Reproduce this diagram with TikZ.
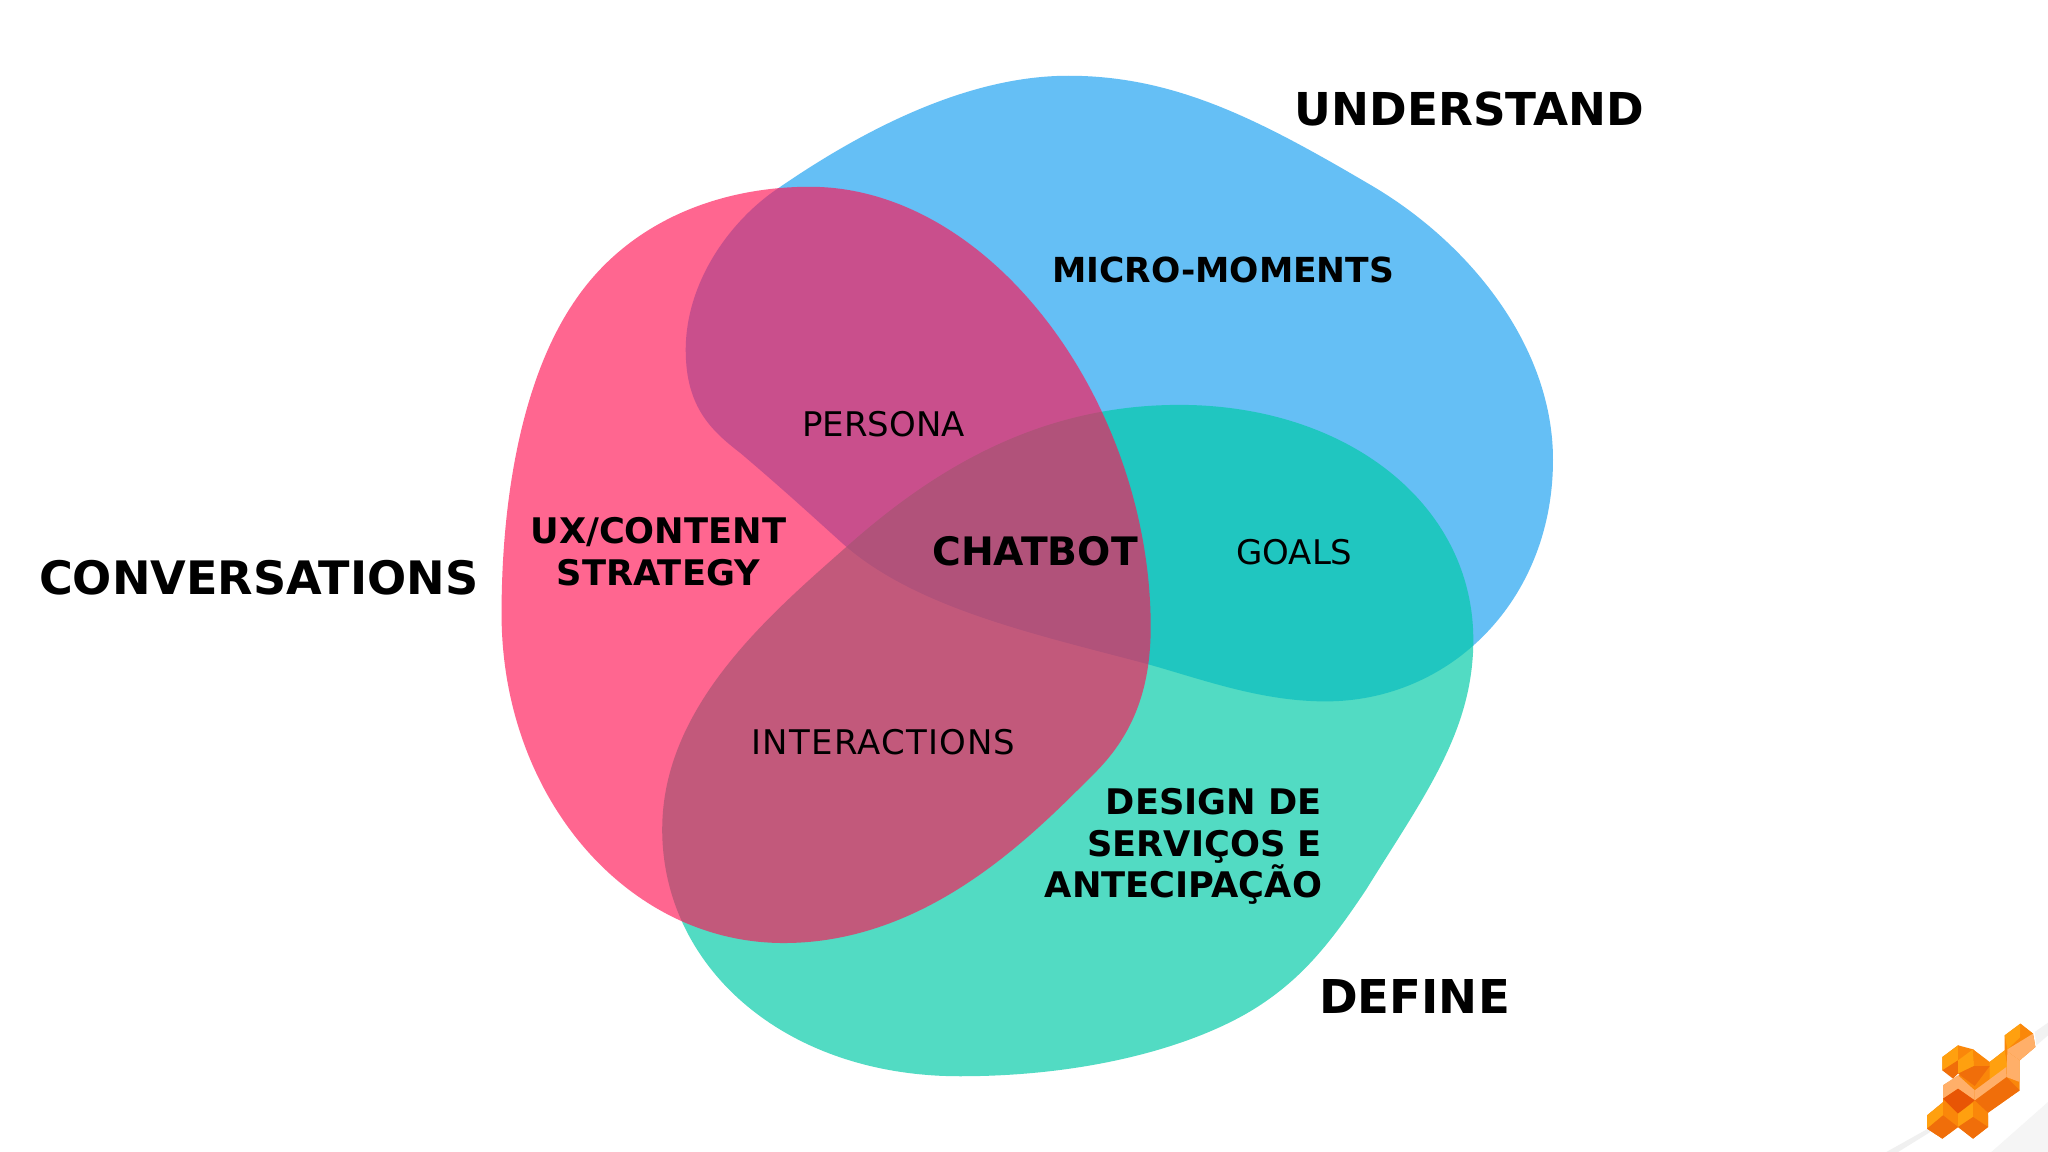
\documentclass[tikz,border=0pt]{standalone}
\usepackage{fontspec}
\setmainfont{DejaVu Sans}
\definecolor{blobblue}{RGB}{101,191,245}
\definecolor{blobgreen}{RGB}{0,202,167}
\definecolor{blobpink}{RGB}{255,20,85}
\definecolor{lgA}{RGB}{255,160,15}
\definecolor{lgB}{RGB}{240,110,10}
\definecolor{lgC}{RGB}{250,135,10}
\definecolor{lgD}{RGB}{255,175,105}
\definecolor{lgE}{RGB}{232,85,5}
\tikzset{
  big/.style={font=\fontsize{35}{35}\selectfont\bfseries,text=black,inner sep=0pt},
  mid/.style={font=\fontsize{27}{32}\selectfont\bfseries,text=black,inner sep=0pt},
  reg/.style={font=\fontsize{26}{30}\selectfont,text=black,inner sep=0pt}
}
\begin{document}
\begin{tikzpicture}[x=1pt,y=-1pt]
\useasboundingbox (0,0) rectangle (1568,882);
\fill[white] (0,0) rectangle (1568,882);
\begin{scope}[shift={(1414.9,759.5)},x=0.2552pt,y=-0.2552pt]
\fill[black!6] (115,480) -- (240,410) -- (250,418) -- (150,480) -- cycle;
\fill[black!4] (430,480) -- (600,330) -- (600,480) -- cycle;
\fill[black!5] (560,120) -- (600,92) -- (600,130) -- (565,160) -- cycle;
\end{scope}
% blue
\fill[blobblue] (818,58) .. controls (900,58) and (965,92) .. (1050,142)
 .. controls (1125,186) and (1189,265) .. (1189,352)
 .. controls (1189,460) and (1110,537) .. (1015,537)
 .. controls (965,537) and (920,520) .. (877,508)
 .. controls (790,485) and (700,465) .. (645,416)
 .. controls (625,398) and (600,375) .. (567,347)
 .. controls (545,330) and (525,312) .. (525,268)
 .. controls (525,215) and (560,168) .. (596,144)
 .. controls (660,100) and (740,58) .. (818,58) -- cycle;
% green
\fill[blobgreen,fill opacity=.68] (903,310) .. controls (1030,310) and (1128,385) .. (1128,490)
 .. controls (1128,560) and (1090,610) .. (1046,681)
 .. controls (1020,720) and (1000,745) .. (970,766)
 .. controls (925,798) and (840,824) .. (735,824)
 .. controls (600,824) and (507,740) .. (507,635)
 .. controls (507,540) and (590,470) .. (650,417)
 .. controls (720,355) and (800,310) .. (903,310) -- cycle;
% pink
\fill[blobpink,fill opacity=.65] (620,143) .. controls (760,143) and (881,310) .. (881,480)
 .. controls (881,530) and (866,565) .. (836,594)
 .. controls (790,640) and (710,722) .. (600,722)
 .. controls (480,722) and (384,610) .. (384,470)
 .. controls (384,380) and (400,290) .. (439,232)
 .. controls (480,170) and (550,143) .. (620,143) -- cycle;
% labels
\node[big,font=\fontsize{34.7}{35}\selectfont\bfseries] (understand) at (1125,83.5) {UNDERSTAND};
\node[big,font=\fontsize{35.3}{35}\selectfont\bfseries] (conversations) at (198,442) {CONVERSATIONS};
\node[big,font=\fontsize{35.7}{35}\selectfont\bfseries] (define) at (1083,763) {DEFINE};
\node[mid,font=\fontsize{26.4}{32}\selectfont\bfseries] (micro) at (936.5,206.5) {MICRO-MOMENTS};
\node[mid,align=center] (ux) at (504,422.5) {UX/CONTENT\\STRATEGY};
\node[mid,font=\fontsize{30}{32}\selectfont\bfseries] (chatbot) at (792.5,422) {CHATBOT};
\node[mid,align=right,anchor=east] (design) at (1012.3,648) {DESIGN DE\\SERVIÇOS E\\ANTECIPAÇÃO};
\node[reg] (persona) at (676.5,325) {PERSONA};
\node[reg] (goals) at (991,423) {GOALS};
\node[reg] (interactions) at (676.5,568) {\addfontfeature{LetterSpace=3.5}INTERACTIONS};
% logo
\begin{scope}[shift={(1414.9,759.5)},x=0.2552pt,y=-0.2552pt]
\fill[lgC] (237,370) -- (285,330) -- (285,280) -- (340,245) -- (283,235) -- (283,195) -- (330,160) -- (375,172) -- (425,210) -- (470,175) -- (470,130) -- (517,95) -- (555,125) -- (562,165) -- (515,205) -- (515,295) -- (420,362) -- (420,405) -- (375,440) -- (330,405) -- (283,440) -- (237,410) -- cycle;
\fill[lgA] (470,130) -- (517,95) -- (517,135) -- (478,172) -- cycle;
\fill[lgC] (517,95) -- (555,125) -- (517,140) -- cycle;
\fill[lgD] (478,172) -- (555,125) -- (562,165) -- (515,205) -- (478,178) -- cycle;
\fill[lgA] (425,210) -- (470,175) -- (478,225) -- (425,265) -- cycle;
\fill[lgD] (478,178) -- (515,205) -- (515,270) -- (475,255) -- cycle;
\fill[lgB] (380,325) -- (475,255) -- (515,295) -- (420,362) -- cycle;
\fill[lgD] (380,295) -- (475,225) -- (475,255) -- (380,325) -- cycle;
\fill[lgD] (285,280) -- (330,250) -- (380,295) -- (380,325) -- (330,290) -- (285,320) -- cycle;
\fill[lgA] (283,195) -- (330,160) -- (330,205) -- (283,235) -- cycle;
\fill[lgC] (330,160) -- (360,180) -- (330,205) -- cycle;
\fill[lgB] (283,235) -- (330,205) -- (330,245) -- (315,260) -- cycle;
\fill[lgA] (330,205) -- (375,172) -- (378,222) -- (330,245) -- cycle;
\fill[lgC] (375,172) -- (425,222) -- (378,222) -- cycle;
\fill[lgB] (330,245) -- (378,222) -- (425,222) -- (380,282) -- cycle;
\fill[lgE] (285,320) -- (330,290) -- (380,325) -- (330,365) -- cycle;
\fill[lgA] (237,370) -- (285,332) -- (285,370) -- (237,410) -- cycle;
\fill[lgC] (285,332) -- (330,370) -- (330,405) -- (285,370) -- cycle;
\fill[lgB] (237,410) -- (285,370) -- (330,405) -- (283,440) -- cycle;
\fill[lgA] (330,365) -- (375,332) -- (375,375) -- (330,405) -- cycle;
\fill[lgC] (375,332) -- (420,370) -- (420,405) -- (375,375) -- cycle;
\fill[lgB] (330,405) -- (375,375) -- (420,405) -- (375,440) -- cycle;
\end{scope}
\end{tikzpicture}
\end{document}
